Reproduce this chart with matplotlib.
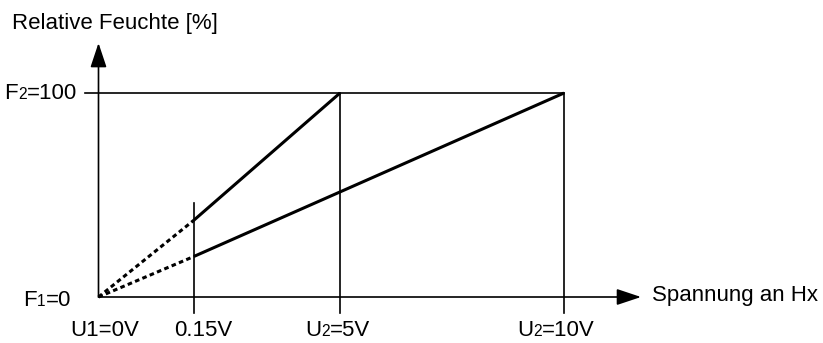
import re

import matplotlib
matplotlib.use('Agg')
import matplotlib.pyplot as plt
from matplotlib.offsetbox import TextArea, HPacker, AnnotationBbox

plt.rcParams['font.family'] = ['Liberation Sans', 'DejaVu Sans']

# schematic x positions (not to scale) of the voltage marks
volt_pos = [0.0, 0.955, 2.415, 4.655]
volt_labels = ['U1=0V', '0.15V', 'U_2=5V', 'U_2=10V']
label_dx = [6, 9, -2, -8]  # px nudge of the tick labels

hum_labels = ['F_1=0', 'F_2=100']
hum_vals = [0, 100]

# relative humidity [%] at 0.15V for the 0-5V and 0-10V characteristic
hum_5v_at_015 = 37.7
hum_10v_at_015 = 19.9
mark_015_top = 46.3

x_label = 'Spannung an Hx'
y_label = 'Relative Feuchte [%]'


def label(ax, s, xy, align, size=16, dx=0):
  parts = re.split(r'_(\d)', s)
  boxes = [TextArea(p, textprops=dict(fontsize=size if i % 2 == 0 else size * 0.7))
           for i, p in enumerate(parts) if p]
  pack = HPacker(children=boxes, align='baseline', pad=0, sep=0)
  ab = AnnotationBbox(pack, xy, xycoords='data', box_alignment=align, frameon=False, pad=0,
                      xybox=(dx / 1.389, 0), boxcoords='offset points')
  ax.add_artist(ab)


fig = plt.figure(figsize=(8.23, 3.43), dpi=100)
ax = fig.add_axes([0, 0, 1, 1])
ax.set_xlim(-0.985, 7.245)
ax.set_ylim(-22.55, 145.6)
ax.axis('off')

x015, x5, x10 = volt_pos[1], volt_pos[2], volt_pos[3]
f_lo, f_hi = hum_vals
tick_bottom = -7.8

lw_ax = 1.2
lw_dat = 2.2
dash = (0, (1.5, 1.1))

# axes with arrows
arrow = dict(arrowstyle='-|>,head_length=0.6,head_width=0.2', mutation_scale=25,
             lw=lw_ax, color='k', shrinkA=0, shrinkB=0)
ax.annotate('', xy=(5.425, f_lo), xytext=(0, f_lo), arrowprops=arrow)
ax.annotate('', xy=(0, 124.5), xytext=(0, f_lo), arrowprops=arrow)

# F2 line and voltage verticals
ax.plot([-0.135, x10], [f_hi, f_hi], color='k', lw=lw_ax)
ax.plot([x015, x015], [tick_bottom, mark_015_top], color='k', lw=lw_ax)
ax.plot([x5, x5], [tick_bottom, f_hi], color='k', lw=lw_ax)
ax.plot([x10, x10], [tick_bottom, f_hi], color='k', lw=lw_ax)

# characteristics
ax.plot([0, x015], [f_lo, hum_5v_at_015], color='k', lw=lw_dat, linestyle=dash)
ax.plot([x015, x5], [hum_5v_at_015, f_hi], color='k', lw=lw_dat, solid_capstyle='butt')
ax.plot([0, x015], [f_lo, hum_10v_at_015], color='k', lw=lw_dat, linestyle=dash)
ax.plot([x015, x10], [hum_10v_at_015, f_hi], color='k', lw=lw_dat, solid_capstyle='butt')

# texts
for pos, lab, dx in zip(volt_pos, volt_labels, label_dx):
  label(ax, lab, (pos, -16.2), (0.5, 0.5), dx=dx)
label(ax, hum_labels[0], (-0.275, -1.5), (1, 0.5))
label(ax, hum_labels[1], (-0.215, f_hi), (1, 0.5))
ax.text(-0.865, 134.3, y_label, fontsize=16, ha='left', va='center')
ax.text(5.535, 0.5, x_label, fontsize=16, ha='left', va='center')

fig.savefig('out.png', dpi=100)
